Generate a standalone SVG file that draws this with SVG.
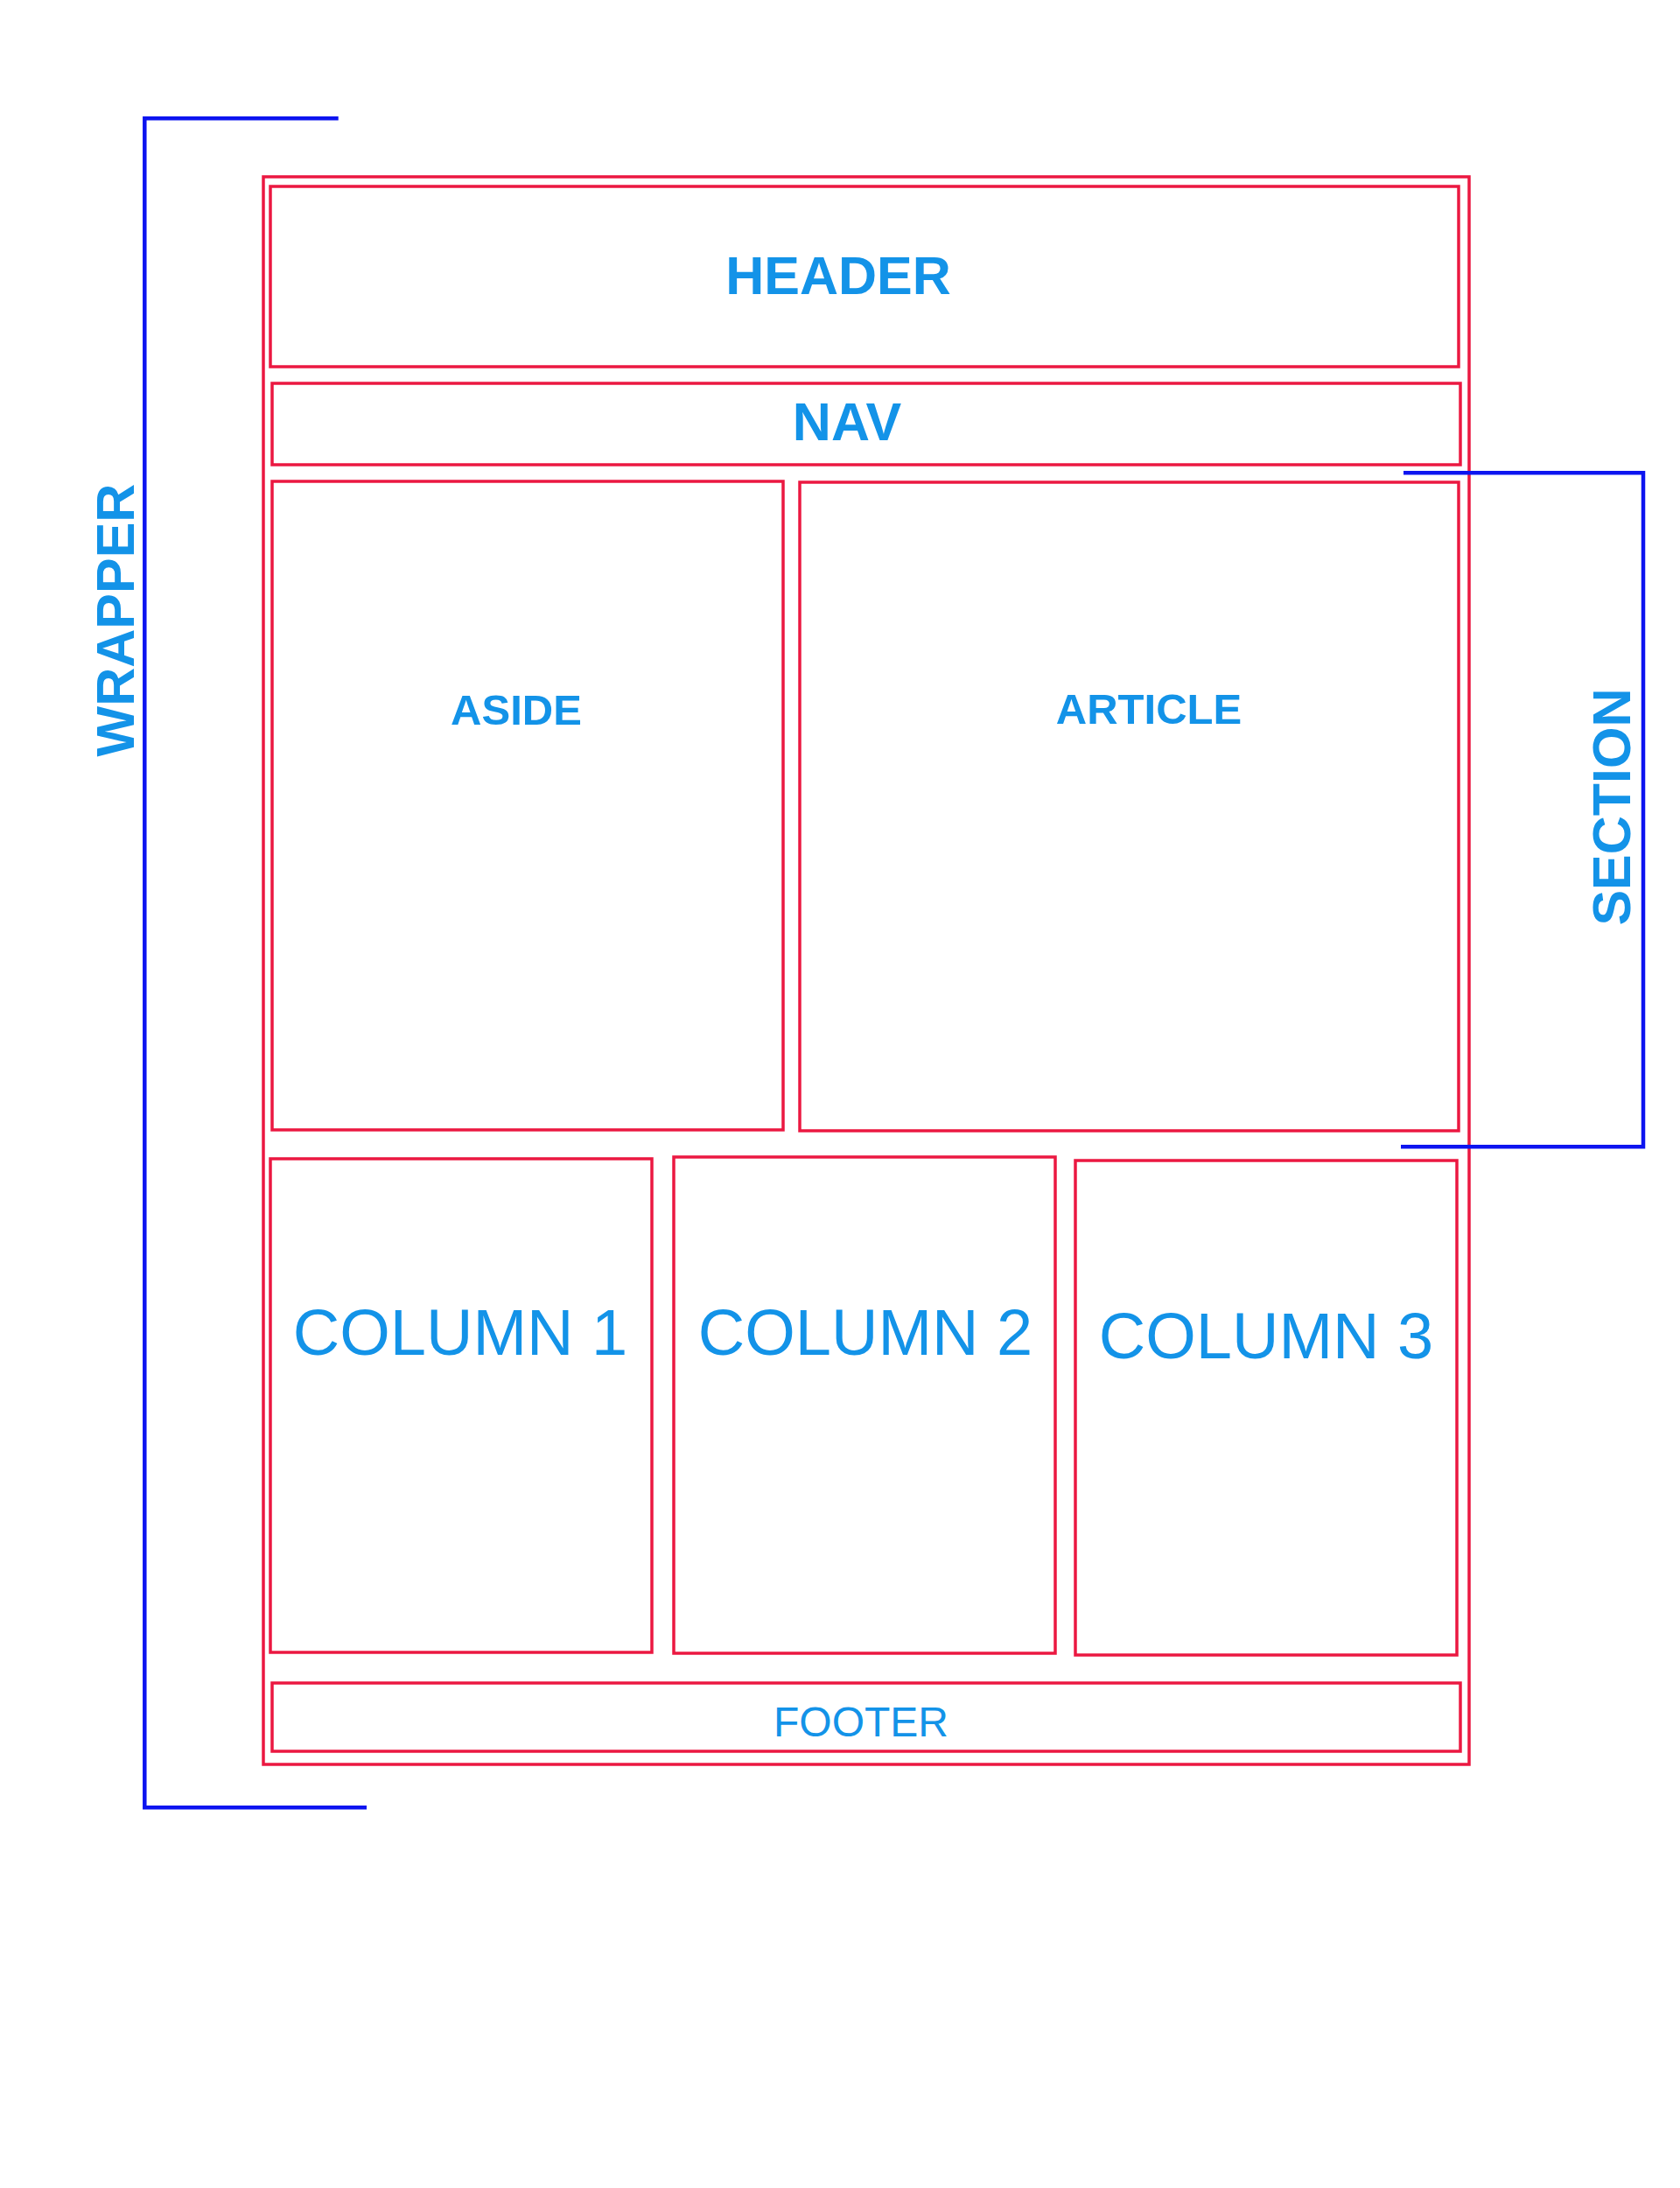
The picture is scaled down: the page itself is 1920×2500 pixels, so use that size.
<svg xmlns="http://www.w3.org/2000/svg" width="1920" height="2500" viewBox="0 0 1920 2500">
<style>
.box{fill:none;stroke:#EB1841;stroke-width:3.5}
.br{fill:none;stroke:#0D14F0;stroke-width:4.5}
.t{fill:#1393E8;font-family:"Liberation Sans",Arial,Helvetica,sans-serif;text-anchor:middle}
.b{font-weight:bold}
</style>
<rect width="1920" height="2500" fill="#fff"/>
<g id="wrapper-box"><rect class="box" x="301" y="202" width="1378" height="1814"/></g>
<g id="header"><rect class="box" x="309" y="213" width="1358" height="206"/><text class="t b" x="958" y="336" font-size="61">HEADER</text></g>
<g id="nav"><rect class="box" x="311" y="438" width="1358" height="93"/><text class="t b" x="968" y="503" font-size="61">NAV</text></g>
<g id="aside"><rect class="box" x="311" y="550" width="584" height="741"/><text class="t b" x="590" y="828" font-size="49">ASIDE</text></g>
<g id="article"><rect class="box" x="914" y="551" width="753" height="741"/><text class="t b" x="1313" y="827" font-size="49">ARTICLE</text></g>
<g id="column1"><rect class="box" x="309" y="1324" width="436" height="564"/><text class="t" x="526" y="1548" font-size="74">COLUMN 1</text></g>
<g id="column2"><rect class="box" x="770" y="1322" width="436" height="567"/><text class="t" x="989" y="1548" font-size="74">COLUMN 2</text></g>
<g id="column3"><rect class="box" x="1229" y="1326" width="436" height="565"/><text class="t" x="1447" y="1552" font-size="74">COLUMN 3</text></g>
<g id="footer"><rect class="box" x="311" y="1923" width="1358" height="78"/><text class="t" x="984" y="1984" font-size="48">FOOTER</text></g>
<g id="connectors">
<path class="br" d="M386.7,135.3 H165.3 V2065.3 H419"/>
<path class="br" d="M1604,540.3 H1878 V1310.3 H1601"/>
</g>
<g id="wrapper-label"><text class="t b" transform="translate(153,708.5) rotate(-90)" font-size="61">WRAPPER</text></g>
<g id="section-label"><text class="t b" transform="translate(1863,922) rotate(-90)" font-size="61">SECTION</text></g>
</svg>
